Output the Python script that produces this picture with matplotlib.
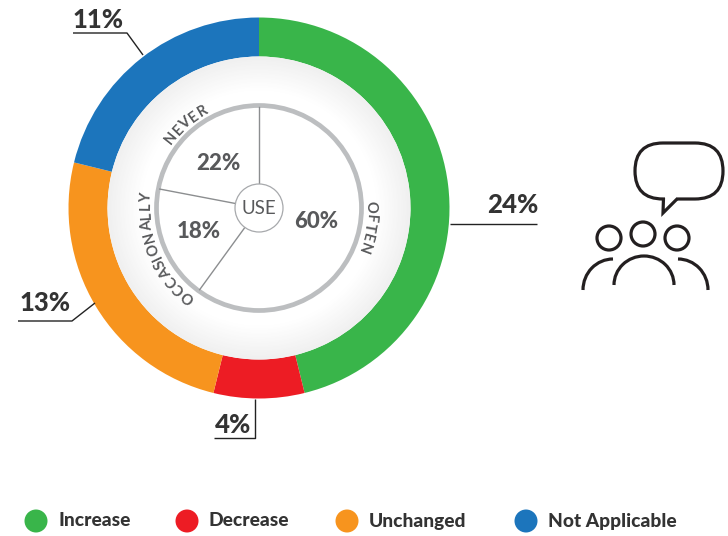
import numpy as np
import matplotlib
matplotlib.use("Agg")
import matplotlib.pyplot as plt
from matplotlib.patches import Circle, FancyBboxPatch, Arc
from matplotlib.font_manager import FontProperties
from matplotlib.textpath import TextPath

plt.rcParams["font.family"] = ["Lato", "DejaVu Sans"]

# outer ring
change_labels = ["Increase", "Decrease", "Unchanged", "Not Applicable"]
change_values = [24, 4, 13, 11]
change_colors = ["#39B54A", "#ED1C24", "#F7941E", "#1C75BC"]

# inner circle
use_labels = ["OFTEN", "OCCASIONALLY", "NEVER"]
use_values = [60, 18, 22]

H = 536
CX, CY = 259, H - 208
DARK = "#333333"
GREY = "#58595B"
RING = "#BCBEC0"
INK = "#231F20"


def py(y):
    # picture y (from top) to axes y
    return H - y


def curved(ax, s, mid_deg, r, size, track=1.0):
    """Write s clockwise along a circle, centred mid_deg clockwise from the top."""
    fp = FontProperties(family="Lato", weight="bold", size=size)
    # TextPath units are points at 72 dpi, the canvas is 100 dpi
    scale = 100 / 72
    centres = []
    for i, ch in enumerate(s):
        end = TextPath((0, 0), s[:i + 1], prop=fp).get_extents().x1 * scale
        ink = TextPath((0, 0), ch, prop=fp).get_extents().width * scale
        centres.append(end - ink / 2 + track * i)
    mid = (centres[0] + centres[-1]) / 2
    for ch, c in zip(s, centres):
        a = np.deg2rad(mid_deg) + (c - mid) / r
        ax.text(CX + r * np.sin(a), CY + r * np.cos(a), ch, rotation=-np.rad2deg(a),
                rotation_mode="anchor", ha="center", va="center", fontproperties=fp,
                color=GREY, zorder=5)


def leader(ax, xs, ys):
    ax.plot(xs, [py(v) for v in ys], color="#222222", lw=1.0, solid_capstyle="butt", zorder=5)


def big_label(ax, x, y, value):
    ax.text(x, py(y), f"{value}%", ha="center", va="center", fontsize=18.5,
            fontweight="black", color=DARK, zorder=6)


def small_label(ax, x, y, value):
    ax.text(x, py(y), f"{value}%", ha="center", va="center", fontsize=16,
            fontweight="black", color=GREY, zorder=5)


fig = plt.figure(figsize=(7.28, 5.36), dpi=100)
ax = fig.add_axes([0, 0, 1, 1])

ax.pie(change_values, colors=change_colors, startangle=90, counterclock=False,
       center=(CX, CY), radius=190.5, frame=True,
       wedgeprops=dict(width=39, linewidth=0))

# soft shading just inside the ring
for i, r in enumerate(np.linspace(151.5, 118, 24)):
    shade = 0.94 + 0.06 * i / 23
    ax.add_patch(Circle((CX, CY), r, fc=(shade, shade, shade), ec="none", zorder=2))

# inner use circle: spokes from the same shares
edges = np.cumsum([0] + use_values[:-1]) / sum(use_values) * 2 * np.pi
ax.add_patch(Circle((CX, CY), 102.5, fc="white", ec=RING, lw=3.4, zorder=3))
for a in edges:
    ax.plot([CX + 23 * np.sin(a), CX + 101 * np.sin(a)],
            [CY + 23 * np.cos(a), CY + 101 * np.cos(a)],
            color="#8C8E90", lw=1.0, zorder=3)
ax.add_patch(Circle((CX, CY), 24, fc="white", ec="#A7A9AC", lw=0.9, zorder=4))
ax.text(CX, CY, "USE", ha="center", va="center", fontsize=13.5, color=GREY, zorder=5)

small_label(ax, 316, 221, use_values[0])
small_label(ax, 199, 232, use_values[1])
small_label(ax, 218, 163, use_values[2])

curved(ax, use_labels[0], 100, 112, 10.5)
curved(ax, use_labels[1], 247, 113, 10.5)
curved(ax, use_labels[2], 319, 112, 10.5)

# leaders and values
leader(ax, [450, 537], [224, 224])
big_label(ax, 513, 205, change_values[0])
leader(ax, [255, 255, 214], [399, 438, 438])
big_label(ax, 233, 425, change_values[1])
leader(ax, [95, 72, 18], [303, 321, 321])
big_label(ax, 45, 303, change_values[2])
leader(ax, [143, 127, 73], [55, 33, 33])
big_label(ax, 98, 20, change_values[3])

# legend
legend_dots = [36, 187, 347, 526]
for x, lab, col in zip(legend_dots, change_labels, change_colors):
    ax.add_patch(Circle((x, py(521)), 11.5, fc=col, ec="none"))
    ax.text(x + 22, py(521), lab, ha="left", va="center", fontsize=13.8, fontweight="black", color=DARK)

# people icon
ax.add_patch(FancyBboxPatch((649, py(185)), 60, 28, boxstyle="round,pad=14,rounding_size=28",
                            ec=INK, fc="white", lw=2.3, zorder=5))
ax.add_patch(plt.Rectangle((665, py(201)), 11, 4, fc="white", ec="none", zorder=6))
ax.plot([663.5, 663, 677], [py(198), py(213), py(199)], color=INK, lw=2.3,
        solid_joinstyle="miter", solid_capstyle="butt", zorder=7)
for x, y in [(609, 238), (643, 234), (677, 238)]:
    ax.add_patch(Circle((x, py(y)), 12, color=INK, lw=2.3, fill=False, zorder=5))
ax.add_patch(Arc((644, py(285)), 60, 58, theta1=0, theta2=180, color=INK, lw=2.3, zorder=5))
ax.add_patch(Arc((613, py(290)), 60, 62, theta1=90, theta2=180, color=INK, lw=2.3, zorder=5))
ax.add_patch(Arc((678, py(290)), 60, 62, theta1=0, theta2=90, color=INK, lw=2.3, zorder=5))

ax.set_xlim(0, 728)
ax.set_ylim(0, H)
ax.set_aspect("equal")
ax.axis("off")
fig.savefig("out.png", dpi=100)
